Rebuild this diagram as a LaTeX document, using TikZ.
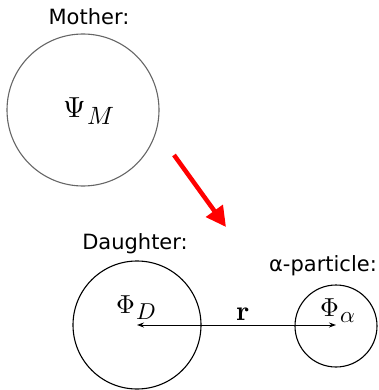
\documentclass[tikz,border=0pt]{standalone}
\usepackage{fontspec}
\setmainfont{DejaVu Sans}
\usepackage{unicode-math}
\setmathfont{Latin Modern Math}
\usetikzlibrary{arrows.meta}
\newcommand\mysymsub[5]{{\fontsize{#1}{#1}\selectfont$#2$}\kern#5\raisebox{-6pt}{\fontsize{#3}{#3}\selectfont$#4$}}
\begin{document}
\begin{tikzpicture}[x=1pt,y=-1pt,
  lbl/.style={font=\fontsize{21}{25}\selectfont, inner sep=0pt},
  sym/.style={inner sep=0pt, anchor=base west},
  ring/.style={circle, draw, line width=1.1pt, inner sep=0pt}]
\useasboundingbox (0,0) rectangle (379,390);
\node[ring, draw=black!60, minimum size=152pt] (mother) at (83,110) {};
\node[lbl] (mlabel) at (89,17) {Mother:};
\node[sym] (psi) at (63,118) {\mysymsub{29}{\Psi}{25}{M}{2pt}};
\coordinate (a1) at (174,155);
\coordinate (a2) at (226,227);
\draw[red, line width=4.5pt, -{Triangle[length=20pt,width=20pt]}] (a1) -- (a2);
\node[ring, minimum size=128pt] (daughter) at (137,325) {};
\node[lbl] (dlabel) at (135,244) {Daughter:};
\node[ring, minimum size=82pt] (alpha) at (336,326) {};
\node[lbl] (alabel) at (323,266) {α-particle:};
\coordinate (dc) at (137,325);
\coordinate (ac) at (336,325);
\draw[line width=0.9pt, {Stealth[length=7pt,width=5pt]}-{Stealth[length=7pt,width=5pt]}] (dc) -- (ac);
\node[sym] (phiD) at (116,313) {\mysymsub{26}{\Phi}{23}{D}{2pt}};
\node[sym] (phiA) at (320,316) {\mysymsub{26}{\Phi}{23}{\alpha}{2pt}};
\node[sym] (r) at (236,320) {\fontsize{28}{28}\selectfont$\symbf{r}$};
\end{tikzpicture}
\end{document}
